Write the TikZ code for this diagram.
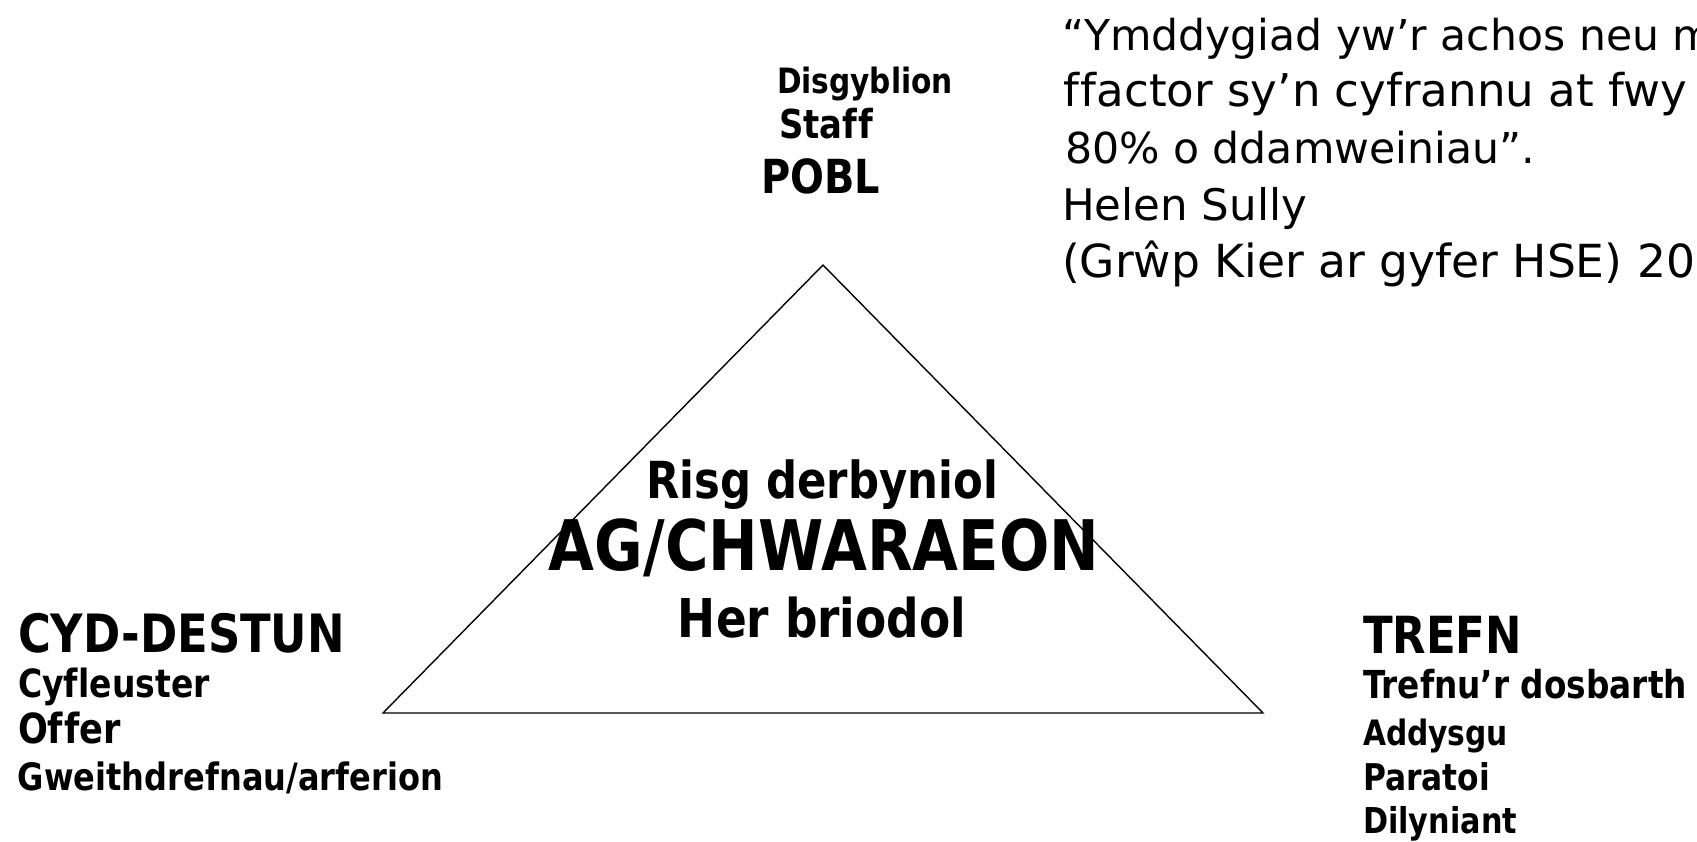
\documentclass[tikz,border=0pt]{standalone}
\usepackage{fontspec}
\setmainfont[Ligatures=NoCommon]{DejaVu Sans}
\newfontfamily\bff[FakeStretch=0.85,Ligatures=NoCommon]{DejaVu Sans}
\newcommand\fitw[2]{\resizebox{#1pt}{!}{#2}}
\tikzset{
  txt/.style={inner sep=0pt, outer sep=0pt, anchor=base west},
  ctxt/.style={inner sep=0pt, outer sep=0pt, anchor=base},
  bsz/.style={font=\bff\bfseries\fontsize{#1}{#1}\selectfont},
  rsz/.style={font=\fontsize{#1}{#1}\selectfont},
  tri/.style={draw=black, line width=1.4pt, line join=miter}
}
\begin{document}
\begin{tikzpicture}[x=1pt,y=-1pt]
\useasboundingbox (0,0) rectangle (1697,841);
\fill[white] (0,0) rectangle (1697,841);
\clip (0,0) rectangle (1697,841);

% triangle
\coordinate (apex) at (823,265);
\coordinate (bl) at (383,713);
\coordinate (br) at (1263,713);
\draw[tri] (apex) -- (bl) -- (br) -- cycle;

% top: POBL
\node[txt,bsz=37] (disg) at (777,93) {\fitw{176}{Disgyblion}};
\node[txt,bsz=37] (staff) at (779,138) {\fitw{94}{Staf\kern1pt f}};
\node[txt,bsz=51] (pobl) at (761,193) {\fitw{119}{POBL}};

% centre
\node[ctxt,bsz=52] (risg) at (822,498) {\fitw{352}{Risg derbyniol}};
\node[ctxt,bsz=62] (ag) at (824,570) {\fitw{550}{AG/CHWARAEON}};
\node[ctxt,bsz=53] (her) at (822,637) {\fitw{288}{Her briodol}};

% left: CYD-DESTUN
\node[txt,bsz=47] (cyd) at (18,652) {\fitw{327}{CYD-DESTUN}};
\node[txt,bsz=36] (cyf) at (18,697) {\fitw{192}{Cyf\kern0.5pt leuster}};
\node[txt,bsz=36] (offer) at (18,743) {\fitw{103}{Of\kern1pt fer}};
\node[txt,bsz=36] (gweith) at (18,790) {\fitw{425}{Gweithdrefnau/arferion}};

% right: TREFN
\node[txt,bsz=45] (trefn) at (1363,653) {\fitw{159}{TREFN}};
\node[txt,bsz=36] (tdos) at (1363,698) {\fitw{324}{Trefnu’r dosbarth}};
\node[txt,bsz=36] (addy) at (1363,745) {\fitw{145}{Addysgu}};
\node[txt,bsz=36] (para) at (1363,790) {\fitw{127}{Paratoi}};
\node[txt,bsz=36] (dily) at (1363,833) {\fitw{154}{Dilyniant}};

% quote
\node[txt,rsz=44] (q1) at (1062,50) {\fitw{652}{“Ymddygiad yw’r achos neu m}};
\node[txt,rsz=44] (q2) at (1063,106.75) {\fitw{624}{f\kern2pt factor sy’n cyfrannu at fwy}};
\node[txt,rsz=44] (q3) at (1065,163.5) {\fitw{470}{80\% o ddamweiniau”.}};
\node[txt,rsz=44] (q4) at (1062,220.25) {\fitw{245}{Helen Sully}};
\node[txt,rsz=44] (q5) at (1062,277) {\fitw{633}{(Grŵp Kier ar gyfer HSE) 20}};
\end{tikzpicture}
\end{document}
